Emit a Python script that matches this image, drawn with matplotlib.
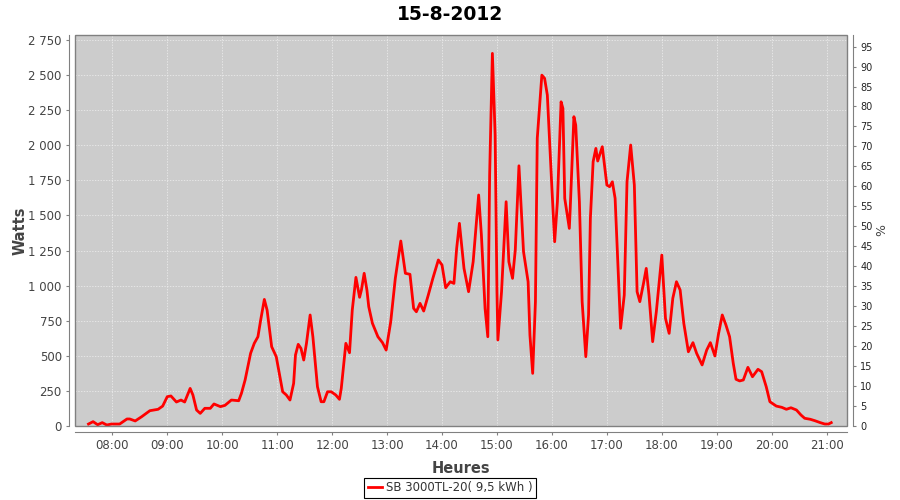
import numpy as np
import matplotlib
matplotlib.use('Agg')
import matplotlib.pyplot as plt
from matplotlib.ticker import FuncFormatter, MultipleLocator
from matplotlib.patches import Rectangle

title = '15-8-2012'
series_name = 'SB 3000TL-20( 9,5 kWh )'

times = ['07:34', '07:39', '07:44', '07:49', '07:54', '07:59', '08:08', '08:16', '08:19', '08:25',
         '08:32', '08:41', '08:50', '08:55', '09:00', '09:04', '09:10', '09:15', '09:19', '09:25',
         '09:28', '09:32', '09:36', '09:41', '09:47', '09:51', '09:58', '10:03', '10:10', '10:18',
         '10:21', '10:25', '10:28', '10:31', '10:35', '10:39', '10:42', '10:46', '10:49', '10:54',
         '10:59', '11:06', '11:10', '11:14', '11:18', '11:20', '11:23', '11:26', '11:29', '11:32',
         '11:36', '11:39', '11:44', '11:48', '11:51', '11:55', '11:59', '12:04', '12:08', '12:10',
         '12:15', '12:19', '12:22', '12:26', '12:30', '12:32', '12:35', '12:38', '12:40', '12:44',
         '12:50', '12:55', '12:59', '13:04', '13:09', '13:15', '13:20', '13:25', '13:29', '13:32',
         '13:36', '13:40', '13:45', '13:50', '13:56', '14:00', '14:04', '14:09', '14:13', '14:16',
         '14:19', '14:24', '14:29', '14:34', '14:40', '14:43', '14:47', '14:50', '14:52', '14:55',
         '14:58', '15:00', '15:01', '15:05', '15:10', '15:13', '15:17', '15:20', '15:24', '15:29',
         '15:34', '15:36', '15:39', '15:42', '15:44', '15:49', '15:52', '15:55', '16:00', '16:03',
         '16:06', '16:10', '16:12', '16:14', '16:19', '16:20', '16:24', '16:26', '16:30', '16:33',
         '16:37', '16:40', '16:42', '16:45', '16:48', '16:50', '16:55', '17:00', '17:03', '17:06',
         '17:09', '17:11', '17:15', '17:19', '17:22', '17:26', '17:30', '17:33', '17:36', '17:40',
         '17:43', '17:46', '17:50', '17:54', '18:00', '18:04', '18:08', '18:12', '18:16', '18:20',
         '18:24', '18:29', '18:34', '18:38', '18:44', '18:49', '18:53', '18:58', '19:02', '19:06',
         '19:10', '19:14', '19:18', '19:21', '19:25', '19:29', '19:34', '19:39', '19:45', '19:49',
         '19:54', '19:58', '20:05', '20:11', '20:16', '20:21', '20:27', '20:32', '20:36', '20:42',
         '20:47', '20:53', '20:58', '21:02', '21:05']

watts = [14, 31, 9, 24, 7, 14, 14, 50, 50, 36,
         66, 109, 119, 142, 209, 214, 171, 185, 171, 268,
         221, 114, 90, 126, 126, 157, 138, 147, 185, 180,
         233, 328, 422, 518, 589, 636, 755, 902, 826, 565,
         494, 244, 221, 185, 304, 506, 582, 553, 470, 589,
         791, 636, 280, 173, 173, 244, 244, 221, 190, 268,
         589, 522, 826, 1059, 917, 969, 1088, 969, 850, 732,
         636, 594, 541, 743, 1052, 1318, 1088, 1081, 838, 814,
         874, 819, 933, 1052, 1183, 1147, 985, 1028, 1016, 1266,
         1444, 1123, 957, 1170, 1646, 1361, 838, 636, 1788, 2655,
         2073, 957, 613, 957, 1598, 1170, 1052, 1254, 1854, 1242,
         1028, 648, 375, 886, 2050, 2500, 2477, 2358, 1693, 1313,
         1598, 2310, 2263, 1622, 1408, 1551, 2204, 2144, 1598, 886,
         494, 791, 1480, 1883, 1978, 1888, 1990, 1717, 1705, 1740,
         1622, 1313, 696, 933, 1740, 2002, 1717, 957, 886, 1016,
         1123, 933, 601, 814, 1218, 767, 660, 910, 1028, 969,
         732, 529, 594, 518, 435, 541, 594, 499, 660, 791,
         720, 636, 447, 333, 321, 328, 418, 351, 404, 387,
         280, 173, 142, 133, 119, 130, 114, 78, 55, 48,
         38, 24, 14, 14, 24]

hour_ticks = list(range(8, 22))
hour_labels = ['%02d:00' % h for h in hour_ticks]

# hours as float
hrs = np.array([int(t[:2]) + int(t[3:]) / 60.0 for t in times])

fig = plt.figure(figsize=(9, 5), dpi=100)
ax = fig.add_axes([75 / 900, 74 / 500, 772 / 900, 391 / 500])
ax.set_facecolor('#cccccc')

ax.plot(hrs, watts, color='#ff0000', lw=2.0, label=series_name, zorder=3)

ax.set_xlim(7.321, 21.37)
ax.set_ylim(0, 2786)
ax.set_xticks(hour_ticks)
ax.set_xticklabels(hour_labels)
ax.yaxis.set_major_locator(MultipleLocator(250))
ax.yaxis.set_major_formatter(FuncFormatter(lambda v, p: '{:,}'.format(int(v)).replace(',', ' ')))

ax.grid(True, color='#f0f0f0', linestyle=(0, (2, 2)), lw=0.5, zorder=1)
ax.set_axisbelow(True)

ax.spines['top'].set_visible(False)
for s in ['left', 'bottom', 'right']:
    ax.spines[s].set_position(('outward', 4))
    ax.spines[s].set_color('#808080')
ax.spines['right'].set_visible(False)
ax.add_patch(Rectangle((0, 0), 1, 1, transform=ax.transAxes, fill=False,
                       edgecolor='#808080', lw=1.0, clip_on=False, zorder=4))

ax.tick_params(axis='both', colors='#808080', labelcolor='#444444', length=2, width=0.8, labelsize=8.5)

ax2 = ax.twinx()
ax2.set_ylim(0, 97.9)
ax2.yaxis.set_major_locator(MultipleLocator(5))
for s in ['top', 'left', 'bottom']:
    ax2.spines[s].set_visible(False)
ax2.spines['right'].set_position(('outward', 4))
ax2.spines['right'].set_color('#808080')
ax2.tick_params(axis='y', colors='#808080', labelcolor='#222222', length=2, width=0.8, labelsize=7)

ax.set_xlabel('Heures', fontsize=10.5, color='#444444', fontweight='bold')
ax.xaxis.set_label_coords(0.5, -0.09)
ax.set_ylabel('Watts', fontsize=10.5, color='#444444', fontweight='bold')
ax.yaxis.set_label_coords(-0.062, 0.5)
ax2.set_ylabel('%', fontsize=9, color='#444444')
ax2.yaxis.set_label_coords(1.037, 0.5)

fig.text(0.5, 0.972, title, ha='center', va='center', fontsize=13.5, fontweight='bold')

leg = fig.legend(loc='center', bbox_to_anchor=(0.5, 0.024), frameon=True, fancybox=False,
                 edgecolor='black', framealpha=1, fontsize=8.5, handlelength=1.2,
                 handletextpad=0.3, borderpad=0.3, borderaxespad=0)
leg.get_frame().set_linewidth(0.8)
for t in leg.get_texts():
    t.set_color('#333333')

fig.savefig('out.png', dpi=100)
